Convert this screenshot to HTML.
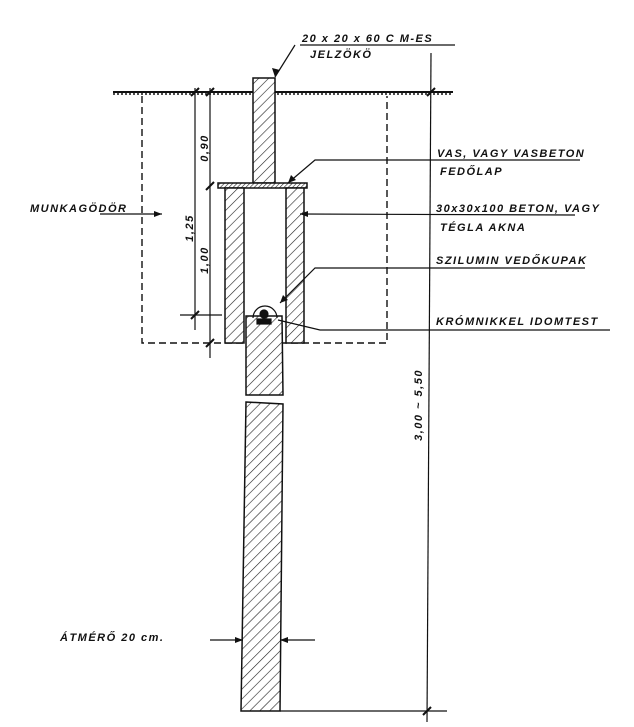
<!DOCTYPE html>
<html><head><meta charset="utf-8"><style>
html,body{margin:0;padding:0;background:#fff}
svg{display:block}
text{font-family:"Liberation Sans",sans-serif;font-weight:bold;font-style:italic;fill:#111;font-size:11px;letter-spacing:1.5px}
</style></head><body>
<svg width="634" height="727" viewBox="0 0 634 727" xmlns="http://www.w3.org/2000/svg">
<defs>
<pattern id="h" width="7" height="7" patternUnits="userSpaceOnUse" patternTransform="rotate(45)">
<rect width="7" height="7" fill="#fff"/><line x1="0" y1="0" x2="0" y2="7" stroke="#222" stroke-width="1.2"/>
</pattern>
<pattern id="h2" width="3" height="3" patternUnits="userSpaceOnUse" patternTransform="rotate(45)">
<rect width="3" height="3" fill="#fff"/><line x1="0" y1="0" x2="0" y2="3" stroke="#222" stroke-width="1.2"/>
</pattern>
</defs>
<g stroke="#111" fill="none" stroke-width="1.2">
<line x1="113" y1="92" x2="453" y2="92" stroke-width="2"/>
<line x1="113" y1="94" x2="453" y2="94" stroke-width="1.5" stroke-dasharray="2 2"/>
<path d="M142 96 V343 H387 V96" stroke-dasharray="7 4" stroke-width="1.4"/>
<rect x="253" y="78" width="22" height="105" fill="url(#h)" stroke-width="1.5"/>
<rect x="218" y="183" width="89" height="5" fill="url(#h2)" stroke-width="1.5"/>
<rect x="225" y="188" width="19" height="155" fill="url(#h)" stroke-width="1.5"/>
<rect x="286" y="188" width="18" height="155" fill="url(#h)" stroke-width="1.5"/>
<path d="M246 316 L282 316 L283 395 L246 395 Z" fill="url(#h)" stroke-width="1.5"/>
<path d="M246 402 L283 404 L280 711 L241 711 Z" fill="url(#h)" stroke-width="1.5"/>
<path d="M253 318 A12 12 0 0 1 277 318" stroke-width="1.2"/>
<circle cx="264" cy="314" r="4" fill="#111"/>
<rect x="257" y="319" width="14" height="5" fill="#111"/>
<line x1="195" y1="88" x2="195" y2="330"/>
<line x1="210" y1="88" x2="210" y2="358"/>
<line x1="180" y1="315" x2="222" y2="315"/>
<g stroke-width="2">
<line x1="191" y1="96" x2="199" y2="88"/><line x1="206" y1="96" x2="214" y2="88"/>
<line x1="206" y1="190" x2="214" y2="182"/>
<line x1="191" y1="319" x2="199" y2="311"/>
<line x1="206" y1="347" x2="214" y2="339"/>
<line x1="427" y1="96" x2="435" y2="88"/>
<line x1="423" y1="715" x2="431" y2="707"/>
</g>
<line x1="431" y1="53" x2="427" y2="722"/>
<line x1="280" y1="711" x2="447" y2="711"/>
<polyline points="300,45 455,45"/>
<line x1="295" y1="45" x2="275" y2="77"/>
<polyline points="288,183 315,160 580,160"/>
<line x1="300" y1="214" x2="575" y2="215"/>
<polyline points="280,303 315,268 585,268"/>
<polyline points="278,320 320,330 610,330"/>
<line x1="100" y1="214" x2="162" y2="214"/>
<line x1="210" y1="640" x2="243" y2="640"/>
<line x1="280" y1="640" x2="315" y2="640"/>
</g>
<g fill="#111">
<polygon points="275,77 272,68 280,70"/>
<polygon points="288,183 291,175 296,180"/>
<polygon points="300,214 308,211 308,217"/>
<polygon points="280,303 283,295 288,300"/>
<polygon points="162,214 154,211 154,217"/>
<polygon points="243,640 235,637 235,643"/>
<polygon points="280,640 288,637 288,643"/>
</g>
<text x="302" y="42" font-size="11">20 x 20 x 60  C M-ES</text>
<text x="310" y="58" font-size="11">JELZÖKÖ</text>
<text x="437" y="157" font-size="11.5">VAS, VAGY  VASBETON</text>
<text x="440" y="175" font-size="11.5">FEDŐLAP</text>
<text x="436" y="212" font-size="11.5">30x30x100 BETON, VAGY</text>
<text x="440" y="231" font-size="11.5">TÉGLA  AKNA</text>
<text x="436" y="264" font-size="11.5">SZILUMIN VEDŐKUPAK</text>
<text x="436" y="325" font-size="11.5">KRÓMNIKKEL IDOMTEST</text>
<text x="30" y="212" font-size="11.5">MUNKAGÖDÖR</text>
<text x="60" y="641" font-size="11">ÁTMÉRŐ  20  cm.</text>
<text transform="translate(208,148) rotate(-90)" font-size="12" text-anchor="middle">0,90</text>
<text transform="translate(193,228) rotate(-90)" font-size="12" text-anchor="middle">1,25</text>
<text transform="translate(208,260) rotate(-90)" font-size="12" text-anchor="middle">1,00</text>
<text transform="translate(422,405) rotate(-90)" font-size="12" text-anchor="middle">3,00  ~  5,50</text>
</svg>
</body></html>
